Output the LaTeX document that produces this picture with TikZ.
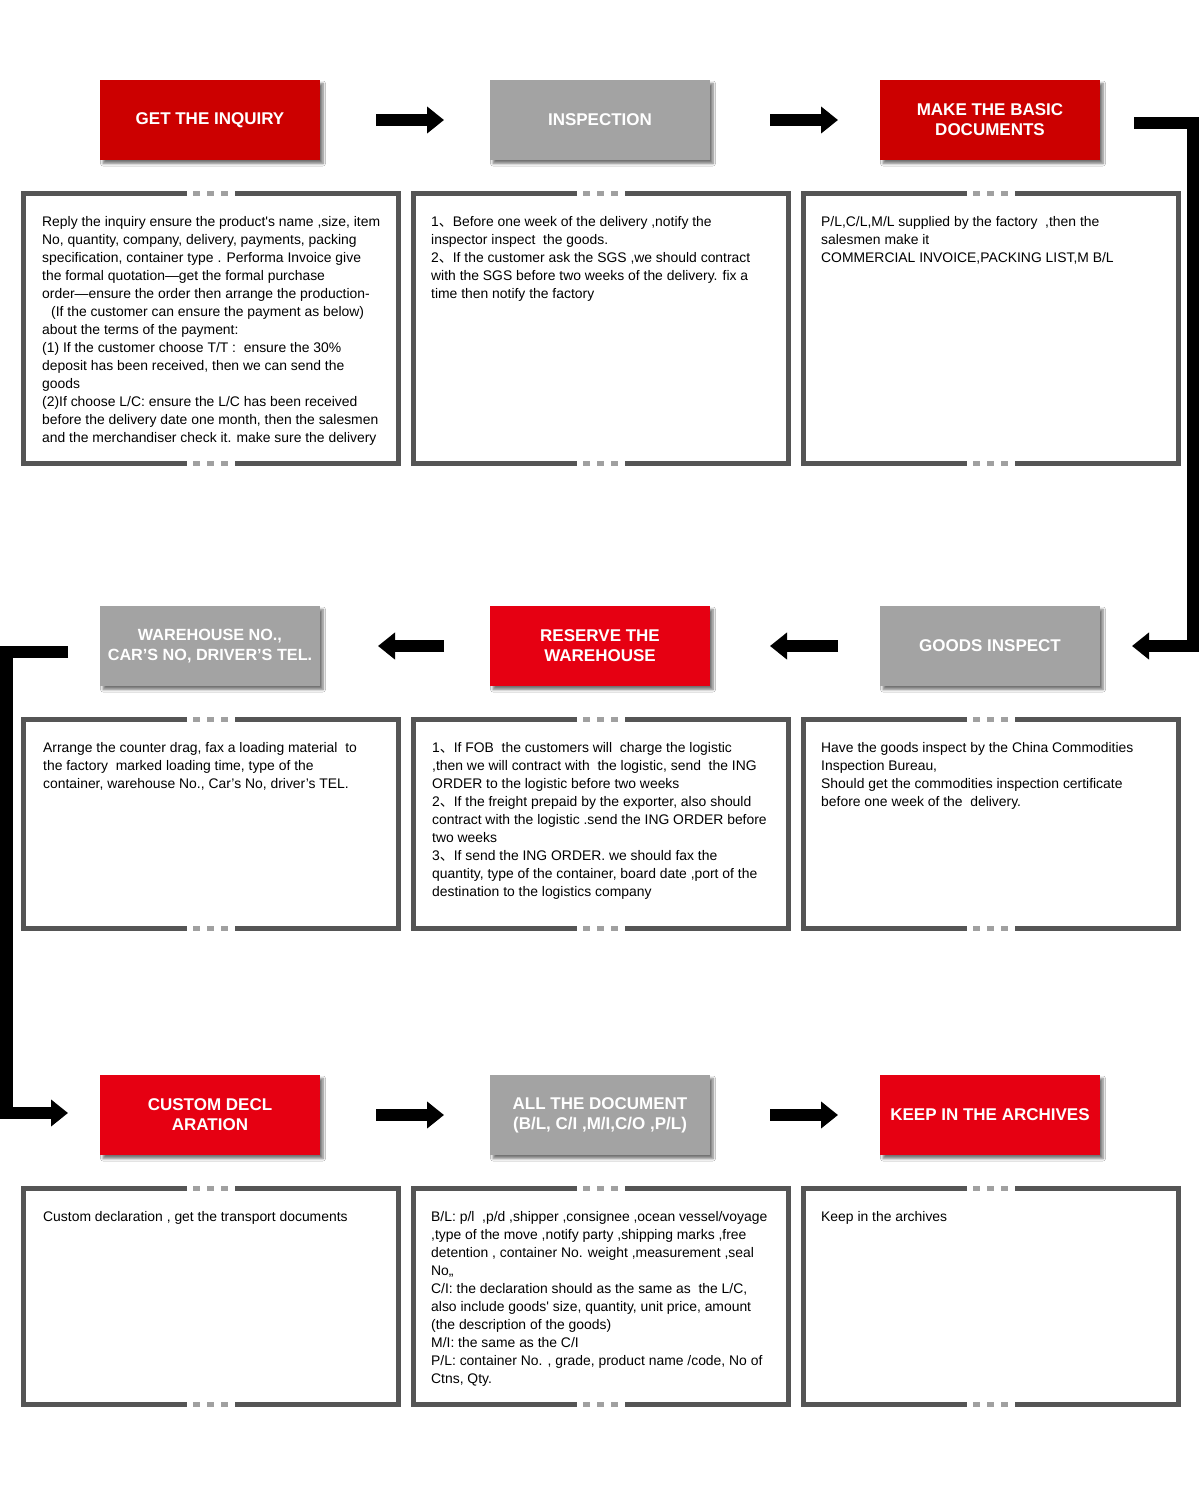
\documentclass[tikz,border=0pt]{standalone}
\usepackage{fontspec}
\setmainfont{Liberation Sans}
\newfontfamily\cjk{Noto Sans CJK SC}
\usetikzlibrary{arrows.meta,shadows.blur,calc}
\newcommand{\dun}{{\cjk 、}}
\newcommand{\sq}{\textquotesingle}
\definecolor{hred}{HTML}{CC0000}
\definecolor{hredb}{HTML}{E60012}
\definecolor{hgray}{HTML}{A3A3A3}
\definecolor{bordc}{HTML}{555555}
\definecolor{bdash}{HTML}{A0A0A0}
\begin{document}
\begin{tikzpicture}[x=1pt,y=-1pt,
  head/.style={minimum width=220pt, minimum height=80pt, inner sep=0pt, outer sep=0pt,
    text=white, font=\fontsize{17}{20}\selectfont\bfseries, align=center,
    blur shadow={shadow xshift=3pt, shadow yshift=-3.5pt, shadow blur radius=2.5pt, shadow blur steps=6, shadow opacity=55}},
  redhead/.style={head, fill=hred},
  redheadb/.style={head, fill=hredb},
  grayhead/.style={head, fill=hgray},
  cbox/.style={minimum width=375pt, inner sep=0pt, outer sep=0pt, draw=none},
  bordl/.style={draw=bordc, line width=5pt, line join=miter},
  dashl/.style={draw=bdash, line width=5pt, dash pattern=on 7pt off 7pt},
  body/.style={anchor=north west, inner sep=0pt, align=left, font=\fontsize{13.9}{18}\selectfont},
  bigarrow/.style={draw=black, line width=12.5pt, line join=miter, -{Triangle[length=17pt,width=26pt]}}
]
\useasboundingbox[fill=white] (0,0) rectangle (1202,1505);

% headers
\node[redhead]   (h1) at (210,120) {GET THE INQUIRY};
\node[grayhead]  (h2) at (600,120) {INSPECTION};
\node[redhead]   (h3) at (990,120) {MAKE THE BASIC\\DOCUMENTS};
\node[grayhead, font=\fontsize{16.2}{20}\selectfont\bfseries]  (h4) at (210,646) {WAREHOUSE NO.,\\CAR’S NO, DRIVER’S TEL.};
\node[redheadb]  (h5) at (600,646) {RESERVE THE\\WAREHOUSE};
\node[grayhead]  (h6) at (990,646) {GOODS INSPECT};
\node[redheadb]  (h7) at (210,1115) {CUSTOM DECL\\ARATION};
\node[grayhead]  (h8) at (600,1115) {ALL THE DOCUMENT\\(B/L, C/I ,M/I,C/O ,P/L)};
\node[redheadb]  (h9) at (990,1115) {KEEP IN THE ARCHIVES};

% content boxes
\node[cbox, minimum height=270pt] (c1) at (211,328.5) {};
\node[cbox, minimum height=270pt] (c2) at (601,328.5) {};
\node[cbox, minimum height=270pt] (c3) at (991,328.5) {};
\node[cbox, minimum height=209pt] (c4) at (211,824) {};
\node[cbox, minimum height=209pt] (c5) at (601,824) {};
\node[cbox, minimum height=209pt] (c6) at (991,824) {};
\node[cbox, minimum height=216pt] (c7) at (211,1296.5) {};
\node[cbox, minimum height=216pt] (c8) at (601,1296.5) {};
\node[cbox, minimum height=216pt] (c9) at (991,1296.5) {};

\foreach \n in {c1,c2,c3,c4,c5,c6,c7,c8,c9}{
  \draw[bordl] ([xshift=-24pt]\n.north) -- (\n.north west) -- (\n.south west) -- ([xshift=-24pt]\n.south);
  \draw[bordl] ([xshift=24pt]\n.north) -- (\n.north east) -- (\n.south east) -- ([xshift=24pt]\n.south);
  \draw[dashl] ([xshift=-18pt]\n.north) -- ([xshift=18pt]\n.north);
  \draw[dashl] ([xshift=-18pt]\n.south) -- ([xshift=18pt]\n.south);
}

% texts
\node[body] (t1) at (42,216.5) {Reply the inquiry ensure the product\sq s name ,size, item\\
No, quantity, company, delivery, payments, packing\\
specification, container type . Performa Invoice give\\
the formal quotation—get the formal purchase\\
order—ensure the order then arrange the production-\\
\hspace*{9pt}(If the customer can ensure the payment as below)\\
about the terms of the payment:\\
(1) If the customer choose T/T :\ \ ensure the 30\%\\
deposit has been received, then we can send the\\
goods\\
(2)If choose L/C: ensure the L/C has been received\\
before the delivery date one month, then the salesmen\\
and the merchandiser check it. make sure the delivery};

\node[body] (t2) at (431,216.5) {1\dun Before one week of the delivery ,notify the\\
inspector inspect\ \ the goods.\\
2\dun If the customer ask the SGS ,we should contract\\
with the SGS before two weeks of the delivery. fix a\\
time then notify the factory};

\node[body] (t3) at (821,216.5) {P/L,C/L,M/L supplied by the factory\ \ ,then the\\
salesmen make it\\
COMMERCIAL INVOICE,PACKING LIST,M B/L};

\node[body] (t4) at (43,742.5) {Arrange the counter drag, fax a loading material\ \ to\\
the factory\ \ marked loading time, type of the\\
container, warehouse No., Car’s No, driver’s TEL.};

\node[body] (t5) at (432,742.5) {1\dun If FOB\ \ the customers will\ \ charge the logistic\\
,then we will contract with\ \ the logistic, send\ \ the ING\\
ORDER to the logistic before two weeks\\
2\dun If the freight prepaid by the exporter, also should\\
contract with the logistic .send the ING ORDER before\\
two weeks\\
3\dun If send the ING ORDER. we should fax the\\
quantity, type of the container, board date ,port of the\\
destination to the logistics company};

\node[body] (t6) at (821,742.5) {Have the goods inspect by the China Commodities\\
Inspection Bureau,\\
Should get the commodities inspection certificate\\
before one week of the\ \ delivery.};

\node[body] (t7) at (43,1211.5) {Custom declaration , get the transport documents};

\node[body] (t8) at (431,1211.5) {B/L: p/l\ \ ,p/d ,shipper ,consignee ,ocean vessel/voyage\\
,type of the move ,notify party ,shipping marks ,free\\
detention , container No. weight ,measurement ,seal\\
No,,\\
C/I: the declaration should as the same as\ \ the L/C,\\
also include goods\sq\ size, quantity, unit price, amount\\
(the description of the goods)\\
M/I: the same as the C/I\\
P/L: container No. , grade, product name /code, No of\\
Ctns, Qty.};

\node[body] (t9) at (821,1211.5) {Keep in the archives};

% arrows
\draw[bigarrow, shorten <=56pt, shorten >=46pt] (h1) -- (h2);
\draw[bigarrow, shorten <=60pt, shorten >=42pt] (h2) -- (h3);
\draw[bigarrow, shorten <=42pt, shorten >=60pt] (h6) -- (h5);
\draw[bigarrow, shorten <=46pt, shorten >=58pt] (h5) -- (h4);
\draw[bigarrow, shorten <=56pt, shorten >=46pt] (h7) -- (h8);
\draw[bigarrow, shorten <=60pt, shorten >=42pt] (h8) -- (h9);

\coordinate (rA) at (1193,123);
\coordinate (rB) at (1193,646);
\draw[bigarrow] ($(h3.east)+(34,3)$) -- (rA) -- (rB) -- ($(h6.east)+(32,0)$);

\coordinate (lA) at (6.25,652);
\coordinate (lB) at (6.25,1113);
\draw[bigarrow] ($(h4.west)+(-32,6)$) -- (lA) -- (lB) -- ($(h7.west)+(-32,-2)$);
\end{tikzpicture}
\end{document}
